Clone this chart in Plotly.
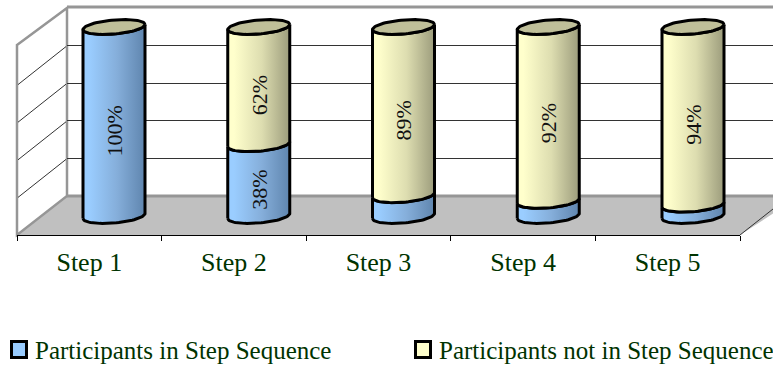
import numpy as np
import plotly.graph_objects as go

categories = ["Step 1", "Step 2", "Step 3", "Step 4", "Step 5"]
in_sequence = [100, 38, 11, 8, 6]
not_in_sequence = [0, 62, 89, 92, 94]
in_labels = ["100%", "38%", "", "", ""]
not_labels = ["", "62%", "89%", "92%", "94%"]
series_names = ["Participants in Step Sequence", "Participants not in Step Sequence"]
wall_ticks = [0, 20, 40, 60, 80, 100]

W, H = 773, 367
INK = "#003300"
FONT = "Liberation Serif, Times New Roman, serif"

def px(x): return x / W
def py(y): return 1 - y / H

# cylinder axes: full-figure linear scales
PX0, PX_STEP = 114.0, 144.75
PY0, PY_UNIT = 216.0, 1.89
x_range = [(0 - PX0) / PX_STEP, (W - PX0) / PX_STEP]
y_range = [(PY0 - H) / PY_UNIT, PY0 / PY_UNIT]
RX, TILT, RY = 31.0, 2.5, 7.0

def arc(cat, value, t):
    return (cat + RX * np.cos(t) / PX_STEP,
            value + (TILT * np.cos(t) + RY * np.sin(t)) / PY_UNIT)

def body(cat, v0, v1, colors):
    t = np.linspace(np.pi, 2 * np.pi, 41)
    x0, y0 = arc(cat, v0, t)
    x1, y1 = arc(cat, v1, t[::-1])
    xs = np.r_[x0, x1, x0[0]]
    ys = np.r_[y0, y1, y0[0]]
    return go.Scatter(x=xs, y=ys, xaxis="x3", yaxis="y3", mode="lines", fill="toself",
                      fillgradient=dict(type="horizontal",
                                        colorscale=[[0, colors[0]], [0.1, colors[0]], [0.55, colors[1]], [1, colors[2]]]),
                      line=dict(color="black", width=3), hoverinfo="skip", showlegend=False)

BLUE = ("#9ACDFF", "#85AEDA", "#5F85AE")
YELL = ("#FFFFCC", "#DDDDB0", "#9C9C7C")
fig = go.Figure()

# helpers so that the wall and category axes exist
fig.add_trace(go.Scatter(x=[0], y=[0], xaxis="x", yaxis="y", mode="markers", opacity=0,
                         hoverinfo="skip", showlegend=False))
fig.add_trace(go.Scatter(x=categories, y=[0] * 5, xaxis="x2", yaxis="y2", mode="markers", opacity=0,
                         hoverinfo="skip", showlegend=False))

for i, (a, b) in enumerate(zip(in_sequence, not_in_sequence)):
    fig.add_trace(body(i, 0, a, BLUE))
    if b > 0:
        fig.add_trace(body(i, a, a + b, YELL))
    t = np.linspace(0, 2 * np.pi, 81)
    ex, ey = arc(i, a + b, t)
    fig.add_trace(go.Scatter(x=ex, y=ey, xaxis="x3", yaxis="y3", mode="lines", fill="toself",
                             fillcolor="#BFBF99", line=dict(color="black", width=3),
                             hoverinfo="skip", showlegend=False))

annotations = []
for i, (a, b) in enumerate(zip(in_sequence, not_in_sequence)):
    for base, v, lab in ((0, a, in_labels[i]), (a, b, not_labels[i])):
        if lab:
            annotations.append(dict(x=i + 0.5 / PX_STEP, y=base + v / 2 - 5, xref="x3", yref="y3", text=lab,
                                    textangle=-90, showarrow=False,
                                    font=dict(family=FONT, size=22, color="#111111")))

shapes = []
def poly(points, fill, line=None, width=0):
    path = "M " + " L ".join(f"{px(x):.5f},{py(y):.5f}" for x, y in points) + " Z"
    shapes.append(dict(type="path", xref="paper", yref="paper", path=path, fillcolor=fill,
                       line=dict(color=line or fill, width=width), layer="below"))
def seg(x0, y0, x1, y1, color, width):
    shapes.append(dict(type="line", xref="paper", yref="paper", x0=px(x0), y0=py(y0), x1=px(x1), y1=py(y1),
                       line=dict(color=color, width=width), layer="below"))

GREY = "#969696"
poly([(17, 235), (67, 196), (800, 196), (740, 235)], "#C0C0C0")
poly([(17, 45), (67, 8), (67, 196), (17, 235)], "white", GREY, 2.5)
seg(67, 7, W, 7, GREY, 3)
seg(67, 196, W, 196, GREY, 3)
for v in wall_ticks[1:-1]:
    yb = 196 - 1.88 * v
    seg(18, yb + 39, 66, yb + 1, "#333333", 1)
seg(740, 235, W, 209, "#333333", 1)

# hand-laid legend matching the reference swatches
for sx, tx, color, name in ((10, 33, "#99CCFF", series_names[0]), (414, 437, "#FFFFCC", series_names[1])):
    shapes.append(dict(type="rect", xref="paper", yref="paper", x0=px(sx + 1.5), x1=px(sx + 16.5), y0=py(341.5), y1=py(357.5),
                       fillcolor=color, line=dict(color="black", width=3)))
    annotations.append(dict(x=px(tx), y=py(350), xref="paper", yref="paper", xanchor="left", yanchor="middle",
                            text=name, showarrow=False, font=dict(family=FONT, size=25, color=INK)))

hidden = dict(visible=False, fixedrange=True)
fig.update_layout(
    width=W, height=H, autosize=False,
    margin=dict(l=0, r=0, t=0, b=0),
    paper_bgcolor="white", plot_bgcolor="rgba(0,0,0,0)",
    showlegend=False,
    shapes=shapes, annotations=annotations,
    font=dict(family=FONT, color=INK),
    # back wall
    xaxis=dict(domain=[px(67), 1], range=[0, 1], showgrid=False, showticklabels=False, ticks="",
               zeroline=False, showline=False, anchor="y", fixedrange=True),
    yaxis=dict(domain=[py(196), py(8)], range=[0, 100], tickvals=wall_ticks, showgrid=True,
               gridcolor="#333333", gridwidth=1, showticklabels=False, ticks="", zeroline=False,
               showline=False, anchor="x", fixedrange=True),
    # category axis on the front edge of the floor
    xaxis2=dict(domain=[px(17), px(740)], type="category", categoryorder="array", categoryarray=categories,
                range=[-0.5, 4.5], tickson="boundaries", ticks="outside", ticklen=5, tickcolor="black", tickwidth=1,
                showline=True, linecolor="black", linewidth=1, showgrid=False, zeroline=False,
                ticklabelstandoff=4,
                tickfont=dict(family=FONT, size=26, color=INK), anchor="y2", fixedrange=True),
    yaxis2=dict(domain=[py(235), 1], range=[0, 1], visible=False, anchor="x2", fixedrange=True),
    # cylinders
    xaxis3=dict(domain=[0, 1], range=x_range, anchor="y3", **hidden),
    yaxis3=dict(domain=[0, 1], range=y_range, anchor="x3", **hidden),
)
fig.write_html("out.html", config={"displayModeBar": False},
               post_script="document.body.style.margin='0';document.documentElement.style.overflow='hidden';")
